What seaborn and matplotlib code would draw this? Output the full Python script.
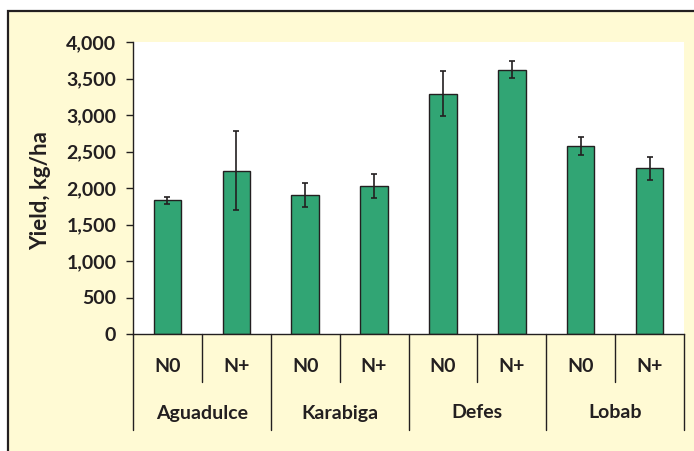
import pandas as pd
import numpy as np
import matplotlib
matplotlib.use("Agg")
import matplotlib.pyplot as plt
import matplotlib.transforms as mtransforms
from matplotlib.patches import Rectangle
import seaborn as sns

varieties = ["Aguadulce", "Karabiga", "Defes", "Lobab"]
treatments = ["N0", "N+"]
yield_mean = [1830, 2237, 1904, 2027, 3292, 3621, 2575, 2270]
yield_err = [45, 543, 160, 160, 310, 116, 119, 160]
yticks = [0, 500, 1000, 1500, 2000, 2500, 3000, 3500, 4000]

df = pd.DataFrame({
    "variety": np.repeat(varieties, len(treatments)),
    "treatment": treatments * len(varieties),
    "yield": yield_mean,
    "err": yield_err,
})
df["slot"] = df["variety"] + " " + df["treatment"]

sns.set_style("white")
plt.rcParams["font.family"] = ["Lato", "DejaVu Sans"]

green = "#31A574"
cream = "#FFFAD4"
ink = "#231F20"

fig = plt.figure(figsize=(6.94, 4.51), dpi=100)
W, H = 694, 451
top = (H - 10.5) / H
fig.patches.append(Rectangle((8 / W, -0.1), 1.2, top + 0.1, transform=fig.transFigure,
                             facecolor=cream, edgecolor=ink, linewidth=1.6, zorder=-5))

ax = fig.add_axes([133 / W, 1 - 334 / H, (684 - 133) / W, (334 - 42) / H])
sns.barplot(data=df, x="slot", y="yield", color=green, width=0.4,
            edgecolor=ink, linewidth=1.0, saturation=1, ax=ax, errorbar=None)
ax.errorbar(np.arange(len(df)), df["yield"], yerr=df["err"], fmt="none",
            ecolor=ink, elinewidth=1.2, capsize=2.5, capthick=1.2)

ax.set_ylim(0, 4000)
ax.set_xlim(-0.5, len(df) - 0.5)
ax.set_yticks(yticks)
ax.set_yticklabels([f"{v:,}" for v in yticks], fontsize=14, fontweight="bold", color=ink)
ax.tick_params(axis="y", left=True, length=5, width=1, color=ink, pad=7)
ax.tick_params(axis="x", bottom=False, labelbottom=False)
ax.set_xlabel("")
ax.set_ylabel("")
fig.text(41 / W, 1 - 191 / H, "Yield, kg/ha", rotation=90, ha="center", va="center",
         fontsize=16, fontweight="bold", color=ink)
sns.despine(ax=ax)
for s in ["left", "bottom"]:
    ax.spines[s].set_color(ink)
    ax.spines[s].set_linewidth(1.0)
ax.set_facecolor("white")

# two-level category axis
trans = mtransforms.blended_transform_factory(ax.transData, ax.transAxes)
ax_h = 334 - 42
short = -(382 - 334) / ax_h
tall = -(430 - 334) / ax_h
for i in range(len(df) + 1):
    y1 = tall if i % 2 == 0 else short
    ax.plot([i - 0.5, i - 0.5], [0, y1], color=ink, lw=1.0, transform=trans, clip_on=False)
for i, t in enumerate(df["treatment"]):
    ax.text(i, -(367 - 334) / ax_h, t, transform=trans, ha="center", va="center",
            fontsize=14, fontweight="bold", color=ink)
for j, v in enumerate(varieties):
    ax.text(2 * j + 0.5, -(413 - 334) / ax_h, v, transform=trans, ha="center", va="center",
            fontsize=14, fontweight="bold", color=ink)

fig.savefig("out.png", dpi=100)
